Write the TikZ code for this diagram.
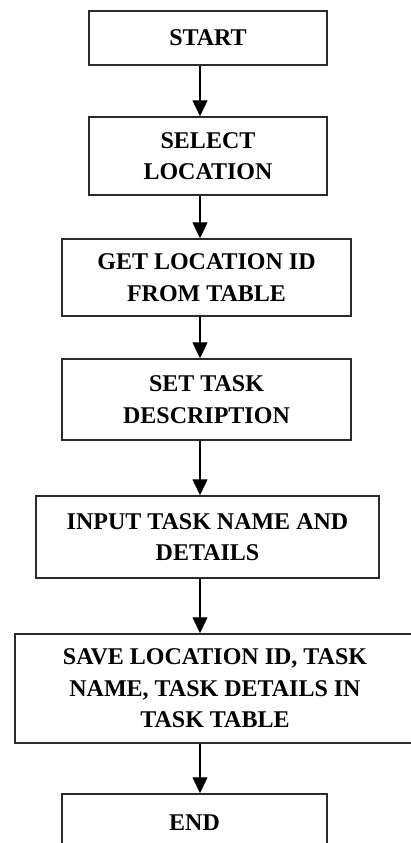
\documentclass[tikz,border=0pt]{standalone}
\usepackage{fontspec}
\setmainfont{Liberation Serif}
\usetikzlibrary{arrows.meta}
\definecolor{boxline}{HTML}{2B2B2B}

\begin{document}
\begin{tikzpicture}[x=1pt, y=-1pt,
    stepbox/.style={draw=boxline, line width=1.5pt, fill=white, align=center,
      font=\fontsize{24}{31.5}\selectfont\bfseries, inner sep=0pt},
    flow/.style={-{Triangle[width=15pt,length=16pt]}, line width=1.4pt}]
  \useasboundingbox (0,0) rectangle (410,843);
  \coordinate (spine) at (200,0);

  % process steps, top to bottom
  \node[stepbox, minimum width=238pt, minimum height=54pt] (start) at (208,38) {START};
  \node[stepbox, minimum width=238pt, minimum height=78pt] (select) at (208,156) {SELECT\\LOCATION};
  \node[stepbox, minimum width=289pt, minimum height=77pt] (getid) at (206.5,277.5) {GET LOCATION ID\\FROM TABLE};
  \node[stepbox, minimum width=289pt, minimum height=81pt] (setdesc) at (206.5,399.5) {SET TASK\\DESCRIPTION};
  \node[stepbox, minimum width=343pt, minimum height=82pt] (input) at (207.5,537) {INPUT TASK NAME AND\\DETAILS};
  \node[stepbox, minimum width=400pt, minimum height=109pt] (save) at (215,688.5) {SAVE LOCATION ID, TASK\\NAME, TASK DETAILS IN\\TASK TABLE};
  \node[stepbox, minimum width=265pt, minimum height=58pt] (finish) at (194.5,823) {END};

  \draw[flow] (start.south -| spine) -- (select.north -| spine);
  \draw[flow] (select.south -| spine) -- (getid.north -| spine);
  \draw[flow] (getid.south -| spine) -- (setdesc.north -| spine);
  \draw[flow] (setdesc.south -| spine) -- (input.north -| spine);
  \draw[flow] (input.south -| spine) -- (save.north -| spine);
  \draw[flow] (save.south -| spine) -- (finish.north -| spine);
\end{tikzpicture}
\end{document}
